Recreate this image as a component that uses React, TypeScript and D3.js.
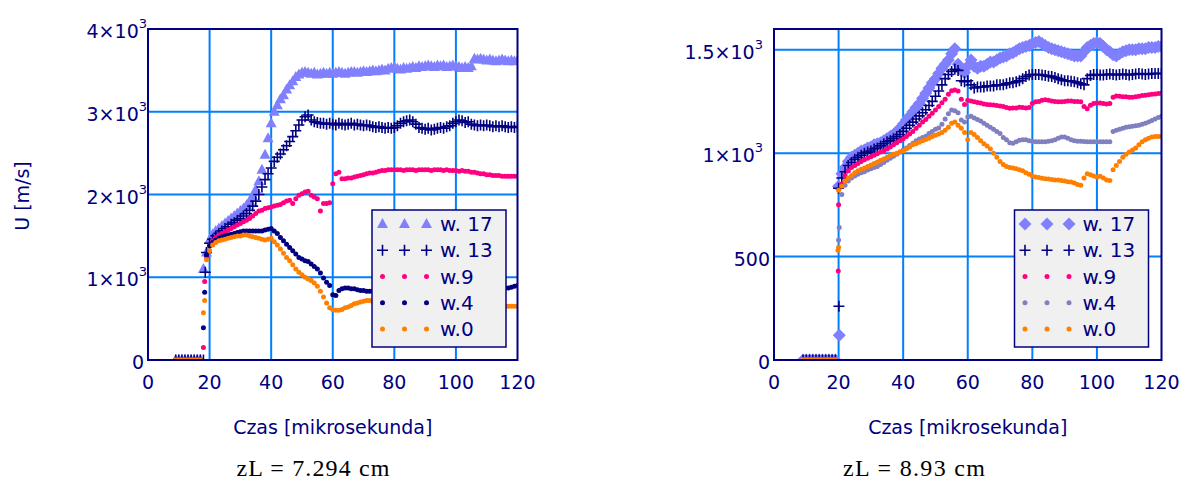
import React from "react";
import * as d3 from "d3";

// Sample times in microseconds (one sample per µs)
const TIME = d3.range(9, 121);

// ---- Left panel (zL = 7.294 cm), velocity U in m/s ----
const LEFT_W17 = [
  0, 0, 0, 0, 0, 0, 0, 0, 0, 1100,
  1300, 1450, 1520, 1560, 1590, 1620, 1650, 1680, 1710, 1740,
  1770, 1800, 1830, 1870, 1920, 1980, 2060, 2160, 2300, 2480,
  2680, 2860, 3000, 3080, 3150, 3200, 3270, 3320, 3370, 3420,
  3450, 3470, 3480, 3470, 3460, 3470, 3450, 3460, 3470, 3460,
  3470, 3460, 3470, 3480, 3470, 3460, 3470, 3480, 3480, 3470,
  3480, 3490, 3480, 3490, 3500, 3490, 3500, 3510, 3500, 3520,
  3530, 3540, 3520, 3510, 3530, 3520, 3530, 3540, 3530, 3550,
  3540, 3550, 3560, 3550, 3540, 3560, 3550, 3560, 3540, 3550,
  3560, 3550, 3540, 3530, 3540, 3530, 3550, 3640, 3630, 3640,
  3630, 3620, 3630, 3620, 3610, 3620, 3630, 3620, 3610, 3620,
  3610, 3620,
];
const LEFT_W13 = [
  0, 0, 0, 0, 0, 0, 0, 0, 0, 0,
  1300, 1410, 1460, 1500, 1530, 1560, 1590, 1610, 1640, 1660,
  1690, 1710, 1740, 1770, 1810, 1860, 1920, 2000, 2090, 2180,
  2250, 2320, 2400, 2450, 2490, 2540, 2590, 2640, 2700, 2770,
  2840, 2900, 2940, 2960, 2900, 2880, 2870, 2860, 2860, 2850,
  2860, 2850, 2840, 2860, 2850, 2840, 2850, 2860, 2840, 2850,
  2840, 2830, 2840, 2830, 2820, 2810, 2820, 2810, 2800, 2810,
  2800, 2810, 2830, 2860, 2880, 2890, 2900, 2880, 2850, 2810,
  2800, 2790, 2800, 2780, 2790, 2800, 2810, 2800, 2820, 2830,
  2860, 2880, 2900, 2890, 2870, 2880, 2850, 2840, 2830, 2840,
  2830, 2840, 2830, 2820, 2830, 2820, 2830, 2820, 2810, 2820,
  2810, 2820,
];
const LEFT_W9 = [
  0, 0, 0, 0, 0, 0, 0, 0, 0, 150,
  1250, 1380, 1440, 1480, 1510, 1530, 1550, 1570, 1590, 1610,
  1630, 1650, 1670, 1690, 1710, 1740, 1770, 1800, 1810, 1830,
  1840, 1850, 1860, 1870, 1880, 1900, 1920, 1930, 1890, 1950,
  1990, 2010, 2030, 2040, 1990, 1970, 1950, 1800, 1890, 1890,
  1900, 2130, 2250, 2270, 2190, 2190, 2200, 2200, 2210, 2220,
  2230, 2240, 2250, 2260, 2260, 2270, 2280, 2290, 2290, 2300,
  2300, 2300, 2300, 2300, 2290, 2300, 2300, 2300, 2290, 2300,
  2300, 2300, 2300, 2290, 2300, 2300, 2300, 2290, 2300, 2290,
  2290, 2290, 2280, 2290, 2280, 2280, 2270, 2270, 2260, 2250,
  2250, 2240, 2240, 2230, 2230, 2230, 2220, 2220, 2220, 2220,
  2220, 2220,
];
const LEFT_W4 = [
  0, 0, 0, 0, 0, 0, 0, 0, 0, 390,
  1270, 1380, 1420, 1450, 1470, 1490, 1500, 1510, 1520, 1530,
  1540, 1550, 1560, 1560, 1560, 1560, 1560, 1560, 1560, 1570,
  1580, 1590, 1560, 1530, 1480, 1440, 1400, 1360, 1320, 1280,
  1240, 1220, 1200, 1190, 1160, 1130, 1100, 1050, 990, 940,
  900, 790, 780, 840, 860, 870, 870, 860, 860, 850,
  840, 840, 830, 830, 830, 840, 840, 850, 850, 850,
  850, 860, 860, 860, 850, 850, 850, 860, 860, 860,
  860, 860, 870, 870, 860, 860, 860, 870, 870, 870,
  870, 870, 870, 860, 860, 860, 870, 870, 870, 870,
  870, 870, 870, 870, 870, 870, 870, 870, 870, 880,
  890, 900,
];
const LEFT_W0 = [
  0, 0, 0, 0, 0, 0, 0, 0, 0, 570,
  1210, 1320, 1390, 1420, 1440, 1450, 1460, 1470, 1480, 1490,
  1500, 1500, 1510, 1510, 1500, 1490, 1480, 1470, 1460, 1450,
  1460, 1470, 1430, 1390, 1340, 1290, 1240, 1200, 1150, 1100,
  1060, 1030, 1000, 980, 960, 930, 890, 830, 760, 690,
  630, 610, 600, 600, 610, 630, 640, 660, 680, 690,
  700, 710, 720, 720, 710, 700, 700, 690, 690, 690,
  690, 680, 680, 680, 680, 670, 670, 670, 670, 670,
  670, 660, 660, 660, 660, 660, 660, 660, 660, 660,
  660, 660, 660, 660, 660, 660, 660, 650, 650, 650,
  650, 650, 650, 650, 650, 650, 650, 650, 650, 650,
  650, 650,
];
// Extra samples caught on the steep front of each wave: [time, U]
const LEFT_RISE_W17: [number, number][] = [];
const LEFT_RISE_W13: [number, number][] = [[18.6, 1060]];
const LEFT_RISE_W9: [number, number][] = [[18.4, 950]];
const LEFT_RISE_W4: [number, number][] = [[18.4, 820]];
const LEFT_RISE_W0: [number, number][] = [[18.4, 720]];

// ---- Right panel (zL = 8.93 cm) ----
const RIGHT_W17 = [
  0, 0, 0, 0, 0, 0, 0, 0, 0, 0,
  0, 840, 900, 930, 960, 980, 990, 1000, 1010, 1015,
  1025, 1030, 1040, 1045, 1050, 1060, 1070, 1080, 1090, 1105,
  1120, 1140, 1160, 1180, 1200, 1220, 1240, 1265, 1290, 1315,
  1340, 1360, 1385, 1410, 1430, 1450, 1480, 1505, 1430, 1400,
  1390, 1420, 1450, 1420, 1410, 1420, 1420, 1430, 1440, 1440,
  1450, 1460, 1465, 1470, 1480, 1485, 1495, 1505, 1510, 1515,
  1520, 1530, 1535, 1540, 1530, 1520, 1510, 1505, 1500, 1495,
  1490, 1485, 1480, 1475, 1470, 1470, 1470, 1490, 1510, 1520,
  1530, 1535, 1530, 1515, 1500, 1490, 1475, 1470, 1480, 1490,
  1495, 1500, 1500, 1500, 1505, 1505, 1505, 1510, 1510, 1510,
  1515, 1515,
];
const RIGHT_W13 = [
  0, 0, 0, 0, 0, 0, 0, 0, 0, 0,
  0, 830, 880, 910, 940, 955, 970, 980, 990, 1000,
  1005, 1010, 1020, 1025, 1035, 1045, 1055, 1060, 1070, 1080,
  1090, 1105, 1120, 1135, 1150, 1165, 1180, 1195, 1210, 1230,
  1250, 1275, 1300, 1330, 1360, 1380, 1395, 1405, 1400, 1350,
  1345, 1350, 1330, 1315, 1320, 1320, 1320, 1325, 1325, 1325,
  1330, 1330, 1330, 1335, 1340, 1340, 1345, 1350, 1360, 1370,
  1378, 1380, 1380, 1380, 1378, 1375, 1372, 1370, 1365, 1360,
  1355, 1350, 1350, 1348, 1345, 1340, 1335, 1330, 1360, 1375,
  1380, 1380, 1378, 1378, 1380, 1382, 1380, 1378, 1380, 1382,
  1380, 1378, 1380, 1382, 1385, 1382, 1380, 1382, 1385, 1385,
  1385, 1385,
];
const RIGHT_W9 = [
  0, 0, 0, 0, 0, 0, 0, 0, 0, 0,
  0, 750, 850, 890, 915, 930, 940, 950, 960, 968,
  975, 982, 990, 997, 1005, 1012, 1020, 1030, 1040, 1050,
  1060, 1070, 1080, 1092, 1105, 1120, 1135, 1150, 1162, 1178,
  1193, 1208, 1225, 1243, 1260, 1285, 1302, 1305, 1300, 1260,
  1235, 1255, 1252, 1248, 1245, 1242, 1238, 1235, 1234, 1233,
  1230, 1228, 1225, 1220, 1217, 1218, 1218, 1222, 1220, 1218,
  1220, 1240, 1248, 1250, 1255, 1258, 1255, 1252, 1250, 1248,
  1248, 1250, 1252, 1252, 1250, 1250, 1248, 1225, 1215, 1232,
  1240, 1242, 1242, 1240, 1238, 1240, 1270, 1276, 1275, 1273,
  1272, 1270, 1270, 1272, 1275, 1278, 1280, 1282, 1284, 1286,
  1288, 1290,
];
const RIGHT_W4 = [
  0, 0, 0, 0, 0, 0, 0, 0, 0, 0,
  0, 580, 800, 845, 865, 880, 890, 898, 905, 910,
  918, 924, 930, 935, 945, 955, 965, 975, 985, 995,
  1005, 1015, 1025, 1037, 1048, 1060, 1068, 1075, 1082, 1095,
  1105, 1115, 1122, 1140, 1165, 1190, 1208, 1205, 1195, 1160,
  1150, 1175, 1178, 1170, 1162, 1155, 1145, 1135, 1125, 1115,
  1105, 1095, 1075, 1065, 1050, 1048, 1055, 1062, 1065, 1065,
  1060, 1058, 1055, 1055, 1055, 1055, 1058, 1060, 1065, 1072,
  1078, 1078, 1072, 1065, 1060, 1058, 1058, 1056, 1055, 1055,
  1055, 1055, 1055, 1055, 1055, 1055, 1105, 1110, 1115, 1120,
  1125, 1128, 1130, 1132, 1135, 1140, 1145, 1150, 1158, 1165,
  1172, 1178,
];
const RIGHT_W0 = [
  0, 0, 0, 0, 0, 0, 0, 0, 0, 0,
  0, 820, 840, 865, 880, 892, 905, 915, 922, 928,
  935, 942, 950, 957, 965, 972, 980, 988, 995, 1000,
  1005, 1010, 1020, 1030, 1040, 1045, 1052, 1060, 1066, 1072,
  1080, 1087, 1093, 1100, 1110, 1125, 1145, 1150, 1135, 1120,
  1100, 1065, 1100, 1090, 1075, 1060, 1045, 1035, 1020, 1000,
  980, 960, 945, 935, 930, 928, 925, 920, 915, 905,
  898, 890, 885, 882, 878, 876, 875, 872, 870, 870,
  868, 865, 862, 860, 855, 848, 845, 880, 900, 895,
  890, 885, 888, 880, 870, 868, 920, 940, 960, 980,
  995, 1005, 1015, 1025, 1040, 1055, 1065, 1072, 1078, 1080,
  1080, 1082,
];
const RIGHT_RISE_W17: [number, number][] = [[20.2, 120]];
const RIGHT_RISE_W13: [number, number][] = [[20.1, 260]];
const RIGHT_RISE_W9: [number, number][] = [[19.9, 430]];
const RIGHT_RISE_W4: [number, number][] = [[20.2, 640]];
const RIGHT_RISE_W0: [number, number][] = [[19.8, 530], [20.0, 545]];

// Axis ticks and labels
const X_TICKS = [0, 20, 40, 60, 80, 100, 120];
const LEFT_Y_TICKS = [0, 1000, 2000, 3000, 4000];
const RIGHT_Y_TICKS = [0, 500, 1000, 1500];
const LEGEND_LABELS = ["w. 17", "w. 13", "w.9", "w.4", "w.0"];

const NAVY = "#000080";
const GRID = "#0080ff";
const LILAC = "#8080ff";
const PINK = "#ff0080";
const GREY = "#8080c0";
const ORANGE = "#ff8000";
const FONT = "'DejaVu Sans', Verdana, sans-serif";

type Kind = "triangle" | "diamond" | "plus" | "dot";
type Series = { values: number[]; rise: [number, number][]; kind: Kind; color: string };

function Marker({ kind, x, y, color }: { kind: Kind; x: number; y: number; color: string }) {
  if (kind === "dot") return <circle cx={x} cy={y} r={2.5} fill={color} />;
  if (kind === "plus")
    return (
      <path
        d={`M${x - 5.5},${y}H${x + 5.5}M${x},${y - 5.5}V${y + 5.5}`}
        stroke={color}
        strokeWidth={1.6}
        fill="none"
      />
    );
  if (kind === "triangle")
    return <path d={`M${x},${y - 6}L${x + 5.5},${y + 4}L${x - 5.5},${y + 4}Z`} fill={color} />;
  return <path d={`M${x},${y - 6.5}L${x + 6.5},${y}L${x},${y + 6.5}L${x - 6.5},${y}Z`} fill={color} />;
}

function powerLabel(v: number) {
  return (
    <>
      {`${v / 1000}×10`}
      <tspan fontSize={13} dy={-8}>3</tspan>
    </>
  );
}

type PanelProps = {
  id: string;
  left: number;
  right: number;
  yMax: number;
  yTicks: number[];
  series: Series[];
  legendX: number;
  numLabelX: number;
  powLabelX: number;
  title: string;
  caption: string;
  captionX: number;
  captionWidth: number;
};

function Panel(p: PanelProps) {
  const top = 29;
  const bottom = 360;
  const x = d3.scaleLinear().domain([0, 120]).range([p.left, p.right]);
  const y = d3.scaleLinear().domain([0, p.yMax]).range([bottom, top]);
  const clipId = `clip-${p.id}`;
  const legendTop = 210;
  const rowStep = 26.25;
  return (
    <g>
      <defs>
        <clipPath id={clipId}>
          <rect x={p.left} y={top} width={p.right - p.left} height={bottom - top} />
        </clipPath>
      </defs>
      {/* grid */}
      {X_TICKS.slice(1, -1).map((t) => (
        <line key={`gx${t}`} x1={x(t)} x2={x(t)} y1={top} y2={bottom} stroke={GRID} strokeWidth={2} />
      ))}
      {p.yTicks.slice(1).map((v) => (
        <line key={`gy${v}`} x1={p.left} x2={p.right} y1={y(v)} y2={y(v)} stroke={GRID} strokeWidth={2} />
      ))}
      {/* data */}
      <g clipPath={`url(#${clipId})`}>
        {p.series.map((s, si) => {
          const pts: [number, number][] = TIME.map((t, i) => [t, s.values[i]] as [number, number])
            .filter((d) => d[1] !== undefined)
            .concat(s.rise);
          return (
            <g key={si}>
              {pts.map(([t, v], i) => (
                <Marker key={i} kind={s.kind} x={x(t)} y={y(v)} color={s.color} />
              ))}
            </g>
          );
        })}
      </g>
      {/* frame */}
      <rect
        x={p.left}
        y={top}
        width={p.right - p.left}
        height={bottom - top}
        fill="none"
        stroke={NAVY}
        strokeWidth={2}
      />
      {/* x tick labels */}
      {X_TICKS.map((t) => (
        <text
          key={`xt${t}`}
          x={x(t)}
          y={382}
          textAnchor="middle"
          dominantBaseline="central"
          fontFamily={FONT}
          fontSize={19}
          fill={NAVY}
        >
          {t}
        </text>
      ))}
      {/* y tick labels */}
      {p.yTicks.map((v) => (
        <text
          key={`yt${v}`}
          x={v >= 1000 ? p.powLabelX : p.numLabelX}
          y={y(v) + 2}
          textAnchor="end"
          dominantBaseline="central"
          fontFamily={FONT}
          fontSize={19}
          fill={NAVY}
        >
          {v >= 1000 ? powerLabel(v) : String(v)}
        </text>
      ))}
      {/* axis title and caption */}
      <text
        x={(p.left + p.right) / 2}
        y={427}
        textAnchor="middle"
        dominantBaseline="central"
        fontFamily={FONT}
        fontSize={19}
        fill={NAVY}
      >
        {p.title}
      </text>
      <text
        x={p.captionX - p.captionWidth / 2}
        y={476}
        textLength={p.captionWidth}
        lengthAdjust="spacing"
        fontFamily="'Liberation Serif', 'Times New Roman', serif"
        fontSize={24}
        fill="#000"
      >
        {p.caption}
      </text>
      {/* legend */}
      <rect x={p.legendX} y={legendTop} width={134} height={137} fill="#f0f0f0" stroke={NAVY} strokeWidth={1.5} />
      {p.series.map((s, i) => {
        const cy = legendTop + 14 + i * rowStep;
        return (
          <g key={`lg${i}`}>
            {[10.5, 32.5, 54.5].map((dx) => (
              <Marker key={dx} kind={s.kind} x={p.legendX + dx} y={cy} color={s.color} />
            ))}
            <text
              x={p.legendX + 68}
              y={cy}
              dominantBaseline="central"
              fontFamily={FONT}
              fontSize={20}
              fill={NAVY}
            >
              {LEGEND_LABELS[i]}
            </text>
          </g>
        );
      })}
    </g>
  );
}

export default function App() {
  const leftSeries: Series[] = [
    { values: LEFT_W17, rise: LEFT_RISE_W17, kind: "triangle", color: LILAC },
    { values: LEFT_W13, rise: LEFT_RISE_W13, kind: "plus", color: NAVY },
    { values: LEFT_W9, rise: LEFT_RISE_W9, kind: "dot", color: PINK },
    { values: LEFT_W4, rise: LEFT_RISE_W4, kind: "dot", color: NAVY },
    { values: LEFT_W0, rise: LEFT_RISE_W0, kind: "dot", color: ORANGE },
  ];
  const rightSeries: Series[] = [
    { values: RIGHT_W17, rise: RIGHT_RISE_W17, kind: "diamond", color: LILAC },
    { values: RIGHT_W13, rise: RIGHT_RISE_W13, kind: "plus", color: NAVY },
    { values: RIGHT_W9, rise: RIGHT_RISE_W9, kind: "dot", color: PINK },
    { values: RIGHT_W4, rise: RIGHT_RISE_W4, kind: "dot", color: GREY },
    { values: RIGHT_W0, rise: RIGHT_RISE_W0, kind: "dot", color: ORANGE },
  ];
  return (
    <div style={{ position: "absolute", left: 0, top: 0 }}>
      <svg width={1189} height={483} style={{ display: "block", background: "#fff" }}>
        <text
          transform="translate(22,196) rotate(-90)"
          textAnchor="middle"
          dominantBaseline="central"
          fontFamily={FONT}
          fontSize={19}
          fill={NAVY}
        >
          U [m/s]
        </text>
        <Panel
          id="a"
          left={148}
          right={517.5}
          yMax={4000}
          yTicks={LEFT_Y_TICKS}
          series={leftSeries}
          legendX={372}
          numLabelX={144}
          powLabelX={147}
          title="Czas [mikrosekunda]"
          caption="zL = 7.294 cm"
          captionX={313}
          captionWidth={153}
        />
        <Panel
          id="b"
          left={774}
          right={1161.5}
          yMax={1600}
          yTicks={RIGHT_Y_TICKS}
          series={rightSeries}
          legendX={1014.5}
          numLabelX={770}
          powLabelX={763}
          title="Czas [mikrosekunda]"
          caption="zL = 8.93 cm"
          captionX={914}
          captionWidth={142}
        />
      </svg>
    </div>
  );
}
